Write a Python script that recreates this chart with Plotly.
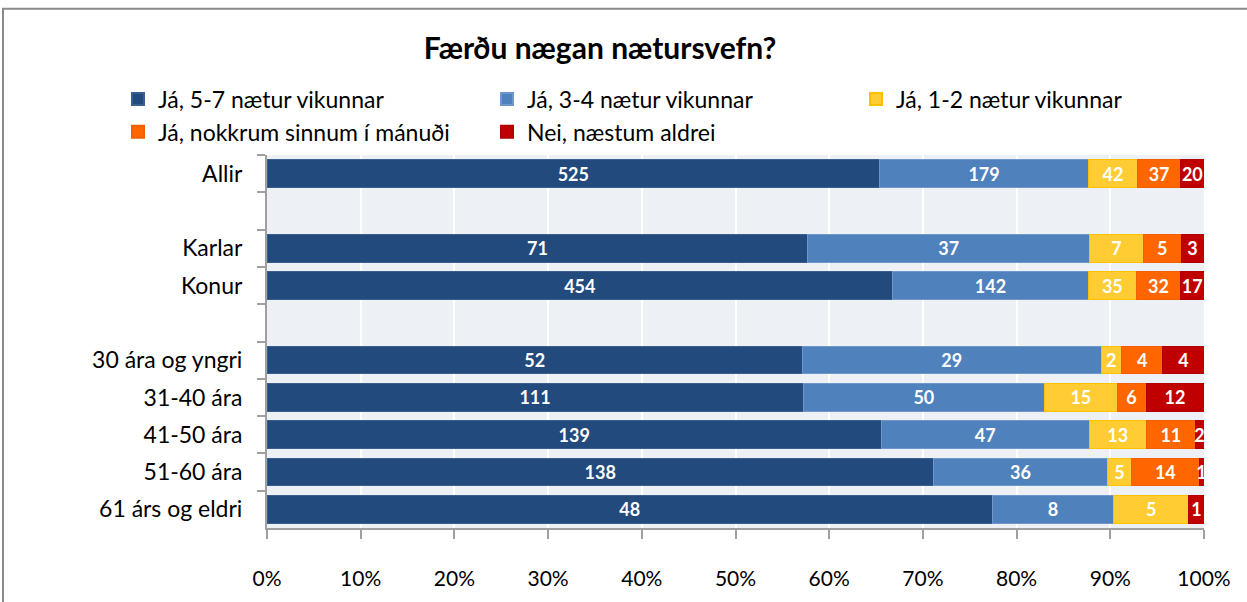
import plotly.graph_objects as go

# Row labels (top to bottom); the blank entries are spacer rows
categories = ["Allir", " ", "Karlar", "Konur", "  ",
              "30 ára og yngri", "31-40 ára", "41-50 ára", "51-60 ára", "61 árs og eldri"]

series_names = ["Já, 5-7 nætur vikunnar", "Já, 3-4 nætur vikunnar", "Já, 1-2 nætur vikunnar",
                "Já, nokkrum sinnum í mánuði", "Nei, næstum aldrei"]

ja_5_7 = [525, None, 71, 454, None, 52, 111, 139, 138, 48]
ja_3_4 = [179, None, 37, 142, None, 29, 50, 47, 36, 8]
ja_1_2 = [42, None, 7, 35, None, 2, 15, 13, 5, 5]
ja_manudi = [37, None, 5, 32, None, 4, 6, 11, 14, 0]
nei = [20, None, 3, 17, None, 4, 12, 2, 1, 1]

x_ticks = [0, 10, 20, 30, 40, 50, 60, 70, 80, 90, 100]
x_ticklabels = ["0%", "10%", "20%", "30%", "40%", "50%", "60%", "70%", "80%", "90%", "100%"]

fills = ["#234A7C", "#4F81BD", "#FFCC33", "#FF6600", "#C00000"]
edges = ["#3A5F8F", "#6E98CB", "#FFC000", "#F06000", "#B00000"]

FONT = "Lato"
W, H = 1247, 602
L, R, T, B = 267, 43, 155, 67
pw, ph = W - L - R, H - T - B

fig = go.Figure()
for name, vals, fc, ec in zip(series_names, [ja_5_7, ja_3_4, ja_1_2, ja_manudi, nei], fills, edges):
    labels = ["" if (v is None or v == 0) else str(v) for v in vals]
    fig.add_trace(go.Bar(
        y=categories, x=vals, name=name, orientation="h",
        marker=dict(color=fc, line=dict(color=ec, width=1)),
        text=labels, texttemplate="%{text}", textposition="inside", textangle=0,
        insidetextanchor="middle", constraintext="none",
        textfont=dict(family=FONT, size=18, color="white", weight="bold"),
        hoverinfo="skip",
    ))

def px_x(p):
    return (p - L) / pw

def px_y(p):
    return 1 - (p - T) / ph

fig.update_layout(
    width=W, height=H,
    margin=dict(l=L, r=R, t=T, b=B),
    barmode="stack", barnorm="percent", bargap=0.26,
    paper_bgcolor="white", plot_bgcolor="#EDF0F5",
    font=dict(family=FONT, size=21, color="black"),
    title=dict(text="<b>Færðu nægan nætursvefn?</b>", x=600 / W, xref="container", xanchor="center",
               y=1 - 48 / H, yref="container", yanchor="middle",
               font=dict(family=FONT, size=30, color="black")),
    legend=dict(orientation="h", x=px_x(118), y=px_y(76), xanchor="left", yanchor="top",
                entrywidth=324, entrywidthmode="pixels", traceorder="normal",
                font=dict(family=FONT, size=23), itemsizing="constant",
                bgcolor="rgba(0,0,0,0)", tracegroupgap=0),
    xaxis=dict(range=[0, 100], tickvals=x_ticks, ticktext=x_ticklabels,
               showgrid=True, gridcolor="white", gridwidth=2,
               showline=True, linecolor="#A0A0A0", linewidth=2,
               ticks="outside", ticklen=9, tickcolor="#A0A0A0", tickwidth=2,
               ticklabelstandoff=22, zeroline=False, fixedrange=True,
               tickfont=dict(family=FONT, size=21)),
    yaxis=dict(categoryorder="array", categoryarray=categories, autorange="reversed",
               showline=True, linecolor="#A0A0A0", linewidth=2,
               ticks="outside", ticklen=8, tickcolor="#A0A0A0", tickwidth=2,
               tickson="boundaries", ticklabelstandoff=18, showgrid=False, fixedrange=True,
               tickfont=dict(family=FONT, size=23)),
    shapes=[dict(type="rect", xref="paper", yref="paper",
                 x0=px_x(3), x1=px_x(W + 20), y0=px_y(H + 20), y1=px_y(6),
                 line=dict(color="#8A8A8A", width=2), fillcolor="rgba(0,0,0,0)", layer="below")],
)

fig.write_html("out.html")
